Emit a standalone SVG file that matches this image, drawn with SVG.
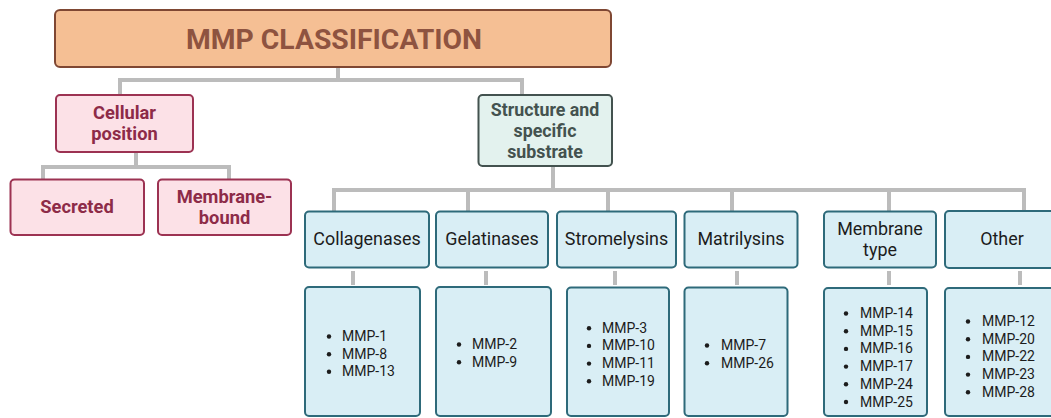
<svg xmlns="http://www.w3.org/2000/svg" width="1051" height="418" viewBox="0 0 1051 418">
<style>
text{font-family:Roboto,"Liberation Sans",sans-serif}
.conn{fill:none;stroke:#bcbcbc;stroke-width:4}
.title{fill:#f5bf94;stroke:#7f4733;stroke-width:2}
.pink{fill:#fce1e7;stroke:#9c3252;stroke-width:2}
.pinkt{font-size:18.3px;font-weight:bold;fill:#8d2b48;text-anchor:middle}
.green{fill:#e3f2ee;stroke:#43524f;stroke-width:2}
.greent{font-size:17.8px;font-weight:bold;fill:#44524f;text-anchor:middle}
.blue{fill:#d9eef5;stroke:#2e6a7a;stroke-width:2}
.bluet{font-size:17.9px;fill:#1c1c1c;text-anchor:middle}
.list{font-size:14px;fill:#1c1c1c}
.dot{fill:#1c1c1c}
</style>
<g id="connectors">
<path class="conn" d="M338,67V80M120,94V80H522V94"/>
<path class="conn" d="M136,152V167M43,179V167H229V179"/>
<path class="conn" d="M553,166V190M334,211V190H1024V211M468,190V211M608,190V211M732,190V211M889,190V211"/>
<path class="conn" d="M353,271V285M486,271V285M615,271V285M737,271V285M889,271V285M1020,271V285"/>
</g>
<g id="title"><rect class="title" x="55" y="10" width="556" height="57" rx="5"/>
<text x="334" y="48.5" font-size="27" font-weight="bold" fill="#8e5340" text-anchor="middle" textLength="296" lengthAdjust="spacingAndGlyphs">MMP CLASSIFICATION</text></g>
<g id="cellular"><rect class="pink" x="56" y="95" width="137" height="57" rx="4"/>
<text class="pinkt" x="124.5" y="119.3">Cellular</text><text class="pinkt" x="124.5" y="140">position</text></g>
<g id="secreted"><rect class="pink" x="10.5" y="179.5" width="133.5" height="55.5" rx="4"/>
<text class="pinkt" x="77" y="213.3">Secreted</text></g>
<g id="membrane-bound"><rect class="pink" x="158" y="179.5" width="133" height="55.5" rx="4"/>
<text class="pinkt" x="224.5" y="203.3">Membrane-</text><text class="pinkt" x="224.5" y="223.8">bound</text></g>
<g id="structure"><rect class="green" x="478.5" y="95" width="133.5" height="71" rx="4"/>
<text class="greent" x="545" y="115.7">Structure and</text><text class="greent" x="545" y="136.7">specific</text><text class="greent" x="545" y="157.7">substrate</text></g>
<g id="collagenases"><rect class="blue" x="305" y="211.5" width="124" height="56" rx="4"/>
<text class="bluet" x="367" y="245">Collagenases</text></g>
<g id="gelatinases"><rect class="blue" x="436" y="211.5" width="112" height="56" rx="4"/>
<text class="bluet" x="492" y="245">Gelatinases</text></g>
<g id="stromelysins"><rect class="blue" x="557" y="211.5" width="119" height="56" rx="4"/>
<text class="bluet" x="616.5" y="245">Stromelysins</text></g>
<g id="matrilysins"><rect class="blue" x="684.5" y="211.5" width="113" height="56" rx="4"/>
<text class="bluet" x="741" y="245">Matrilysins</text></g>
<g id="membrane-type"><rect class="blue" x="824" y="211.5" width="112" height="56" rx="4"/>
<text class="bluet" x="880" y="235">Membrane</text><text class="bluet" x="880" y="256">type</text></g>
<g id="other"><rect class="blue" x="945" y="211" width="120" height="57" rx="4"/>
<text class="bluet" x="1002" y="245">Other</text></g>
<g id="collagenases-list"><rect class="blue" x="305" y="287" width="115" height="129" rx="4"/>
<circle class="dot" cx="329" cy="336.5" r="2.2"/><circle class="dot" cx="329" cy="354.2" r="2.2"/><circle class="dot" cx="329" cy="371.8" r="2.2"/>
<text class="list" x="342" y="341">MMP-1</text><text class="list" x="342" y="358.7">MMP-8</text><text class="list" x="342" y="376.3">MMP-13</text></g>
<g id="gelatinases-list"><rect class="blue" x="436" y="287" width="115" height="129" rx="4"/>
<circle class="dot" cx="459" cy="344.5" r="2.2"/><circle class="dot" cx="459" cy="362.2" r="2.2"/>
<text class="list" x="472" y="349">MMP-2</text><text class="list" x="472" y="366.7">MMP-9</text></g>
<g id="stromelysins-list"><rect class="blue" x="567" y="287.5" width="102" height="128.5" rx="4"/>
<circle class="dot" cx="589" cy="328.2" r="2.2"/><circle class="dot" cx="589" cy="345.9" r="2.2"/><circle class="dot" cx="589" cy="363.6" r="2.2"/><circle class="dot" cx="589" cy="381.3" r="2.2"/>
<text class="list" x="602" y="332.7">MMP-3</text><text class="list" x="602" y="350.4">MMP-10</text><text class="list" x="602" y="368.1">MMP-11</text><text class="list" x="602" y="385.8">MMP-19</text></g>
<g id="matrilysins-list"><rect class="blue" x="684.5" y="287.5" width="103" height="128.5" rx="4"/>
<circle class="dot" cx="707" cy="345.5" r="2.2"/><circle class="dot" cx="707" cy="363.2" r="2.2"/>
<text class="list" x="721" y="350">MMP-7</text><text class="list" x="721" y="367.7">MMP-26</text></g>
<g id="membrane-type-list"><rect class="blue" x="824" y="288" width="103" height="128" rx="4"/>
<circle class="dot" cx="846" cy="313.5" r="2.2"/><circle class="dot" cx="846" cy="331.2" r="2.2"/><circle class="dot" cx="846" cy="348.9" r="2.2"/><circle class="dot" cx="846" cy="366.6" r="2.2"/><circle class="dot" cx="846" cy="384.3" r="2.2"/><circle class="dot" cx="846" cy="402" r="2.2"/>
<text class="list" x="860" y="318">MMP-14</text><text class="list" x="860" y="335.7">MMP-15</text><text class="list" x="860" y="353.4">MMP-16</text><text class="list" x="860" y="371.1">MMP-17</text><text class="list" x="860" y="388.8">MMP-24</text><text class="list" x="860" y="406.5">MMP-25</text></g>
<g id="other-list"><rect class="blue" x="945" y="288" width="120" height="128" rx="4"/>
<circle class="dot" cx="968" cy="321.5" r="2.2"/><circle class="dot" cx="968" cy="339.2" r="2.2"/><circle class="dot" cx="968" cy="356.9" r="2.2"/><circle class="dot" cx="968" cy="374.6" r="2.2"/><circle class="dot" cx="968" cy="392.3" r="2.2"/>
<text class="list" x="982" y="326">MMP-12</text><text class="list" x="982" y="343.7">MMP-20</text><text class="list" x="982" y="361.4">MMP-22</text><text class="list" x="982" y="379.1">MMP-23</text><text class="list" x="982" y="396.8">MMP-28</text></g>
</svg>
